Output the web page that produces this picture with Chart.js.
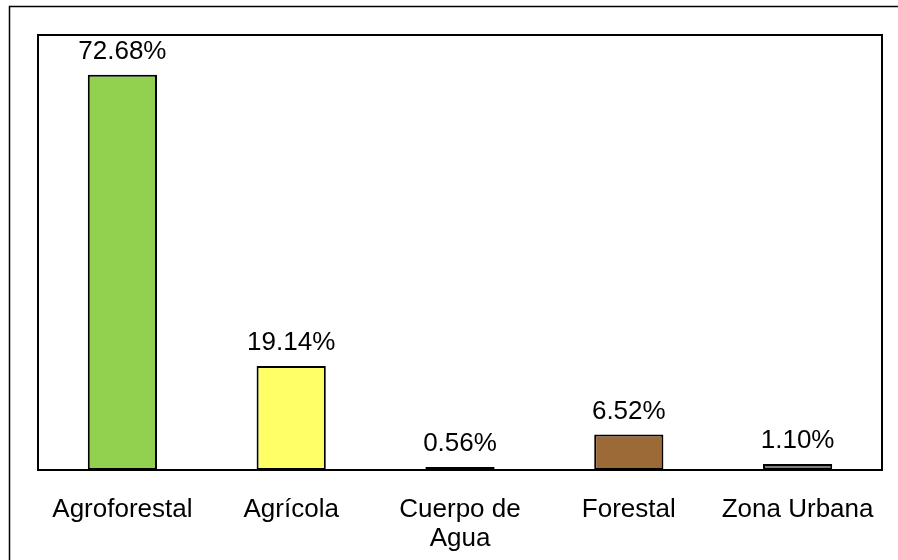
<!DOCTYPE html>
<html>
<head>
<meta charset="utf-8">
<script src="https://cdn.jsdelivr.net/npm/chart.js@4"></script>
<style>
html,body{margin:0;padding:0;background:#fff;overflow:hidden;}
canvas{display:block;}
</style>
</head>
<body>
<canvas id="c" width="898" height="560"></canvas>
<script>
const categories = [["Agroforestal"], ["Agrícola"], ["Cuerpo de", "Agua"], ["Forestal"], ["Zona Urbana"]];
const values = [72.68, 19.14, 0.56, 6.52, 1.10];
const barColors = ["#92D050", "#FFFF66", "#8497B0", "#9C6A36", "#7F7F7F"];

const FONT = "'Liberation Sans', Arial, sans-serif";

const framePlugin = {
  id: 'frame',
  beforeDraw(chart) {
    const ctx = chart.ctx;
    ctx.save();
    ctx.fillStyle = '#fff';
    ctx.fillRect(0, 0, chart.width, chart.height);
    ctx.strokeStyle = '#000';
    ctx.lineWidth = 1.5;
    ctx.beginPath();
    ctx.moveTo(9.5, chart.height + 2);
    ctx.lineTo(9.5, 6.5);
    ctx.lineTo(chart.width + 2, 6.5);
    ctx.stroke();
    ctx.restore();
  },
  afterDatasetsDraw(chart) {
    const ctx = chart.ctx;
    const a = chart.chartArea;
    ctx.save();
    ctx.strokeStyle = '#000';
    ctx.lineWidth = 2;
    ctx.strokeRect(a.left, a.top, a.right - a.left, a.bottom - a.top);
    // data labels
    ctx.fillStyle = '#000';
    ctx.font = '26px ' + FONT;
    ctx.textAlign = 'center';
    ctx.textBaseline = 'alphabetic';
    const meta = chart.getDatasetMeta(0);
    meta.data.forEach((bar, i) => {
      ctx.fillText(values[i].toFixed(2) + '%', bar.x, bar.y - 16);
    });
    ctx.restore();
  }
};

new Chart(document.getElementById('c'), {
  type: 'bar',
  data: {
    labels: categories,
    datasets: [{
      data: values,
      backgroundColor: barColors,
      borderColor: '#000',
      borderWidth: 2,
      borderSkipped: false,
      barPercentage: 0.41,
      categoryPercentage: 1.0
    }]
  },
  options: {
    responsive: false,
    animation: false,
    devicePixelRatio: 1,
    layout: { padding: { left: 38, right: 16, top: 35, bottom: 0 } },
    plugins: { legend: { display: false }, tooltip: { enabled: false } },
    scales: {
      y: {
        display: false,
        min: 0,
        max: 80
      },
      x: {
        grid: { display: false, drawTicks: false },
        border: { display: false },
        ticks: {
          color: '#000',
          font: { family: FONT, size: 26, lineHeight: 1.12 },
          padding: 25,
          maxRotation: 0,
          autoSkip: false
        },
        afterFit(scale) { scale.height = 90; scale.paddingLeft = 0; scale.paddingRight = 0; }
      }
    }
  },
  plugins: [framePlugin]
});
</script>
</body>
</html>
